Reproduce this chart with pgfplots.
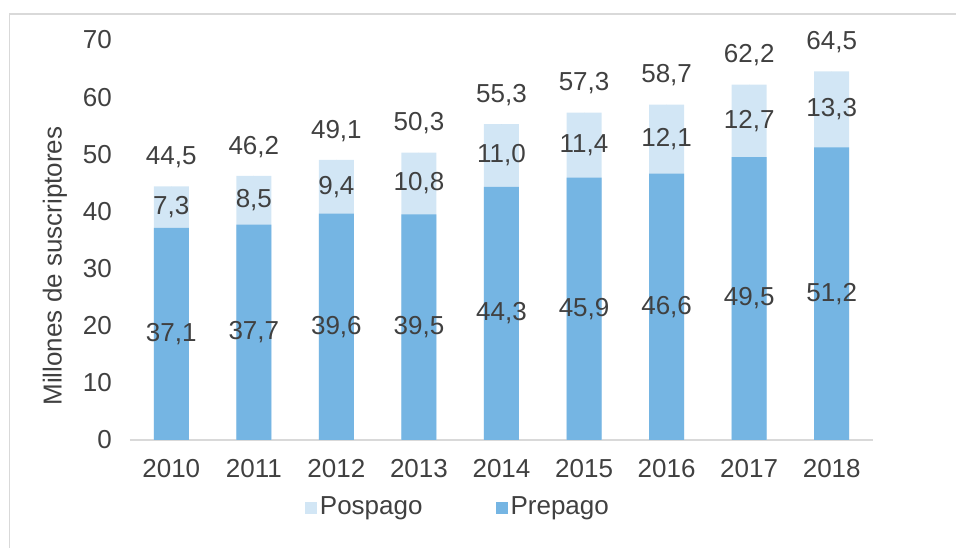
\documentclass[border=0pt]{standalone}
\usepackage{pgfplots}
\pgfplotsset{compat=1.18}
\usepackage{pgfplotstable}
\usepackage{fontspec}
\setmainfont{Liberation Sans}
\definecolor{prec}{HTML}{75B5E3}
\definecolor{posc}{HTML}{D2E6F5}
\definecolor{txt}{HTML}{404040}
\definecolor{axc}{HTML}{D9D9D9}
\pgfplotstableread{
x pre pos tot
0 37.1 7.3 44.5
1 37.7 8.5 46.2
2 39.6 9.4 49.1
3 39.5 10.8 50.3
4 44.3 11.0 55.3
5 45.9 11.4 57.3
6 46.6 12.1 58.7
7 49.5 12.7 62.2
8 51.2 13.3 64.5
}\datatab
\begin{document}
\fontsize{19.5}{23}\selectfont
\color{txt}
\begin{tikzpicture}
\begin{axis}[
  at={(0,0)}, anchor=south west,
  scale only axis, width=557.25pt, height=300pt,
  xmin=-0.5, xmax=8.5, ymin=0, ymax=70,
  xtick={0,1,2,3,4,5,6,7,8},
  xticklabels={2010,2011,2012,2013,2014,2015,2016,2017,2018},
  ytick={0,10,20,30,40,50,60,70},
  axis lines*=left,
  x axis line style={draw=axc, line width=1.5pt},
  y axis line style={draw=none},
  major tick length=0pt,
  tick style={draw=none},
  /pgf/number format/assume math mode=true,
  tick label style={font=\fontsize{19.5}{23}\selectfont, text=txt},
  yticklabel style={xshift=-7pt},
  xticklabel style={yshift=-8pt},
  ylabel={Millones de suscriptores},
  every axis y label/.style={at={(axis description cs:-0.101,0.435)}, rotate=90, anchor=center, font=\fontsize{19.5}{23}\selectfont, text=txt},
  legend style={at={(0.442,-0.17)}, anchor=center, draw=none, fill=none, legend columns=2,
    font=\fontsize{19.5}{23}\selectfont, text=txt,
    /tikz/every even column/.append style={column sep=53pt},
    /tikz/every odd column/.append style={column sep=0pt}},
  legend image code/.code={\fill[#1] (0pt,-4.5pt) rectangle (9pt,4.5pt);},
  nodes near coords={\pgfmathprintnumber[fixed, fixed zerofill, precision=1, use comma, assume math mode=true]{\pgfplotspointmeta}},
  every node near coord/.append style={font=\fontsize{19.5}{23}\selectfont, text=txt},
]
\addplot[ybar, bar width=26.25pt, bar shift=0pt, fill=posc, draw=none, nodes near coords={}] table[x=x, y expr=\thisrow{pre}+\thisrow{pos}]{\datatab};
\addlegendentry{Pospago}
\addplot[ybar, bar width=26.25pt, bar shift=0pt, fill=prec, draw=none, nodes near coords={}] table[x=x, y=pre]{\datatab};
\addlegendentry{Prepago}
% labels
\addplot[forget plot, only marks, mark=*, mark size=0pt, mark options={draw=none, fill=none},
  point meta=explicit, nodes near coords align=center]
  table[x=x, y expr=\thisrow{pre}/2, meta=pre]{\datatab};
\addplot[forget plot, only marks, mark=*, mark size=0pt, mark options={draw=none, fill=none},
  point meta=explicit, nodes near coords align=center]
  table[x=x, y expr=\thisrow{pre}+\thisrow{pos}/2, meta=pos]{\datatab};
\addplot[forget plot, only marks, mark=*, mark size=0pt, mark options={draw=none, fill=none},
  point meta=explicit, nodes near coords align=center,
  every node near coord/.append style={yshift=22pt}]
  table[x=x, y expr=\thisrow{pre}+\thisrow{pos}, meta=tot]{\datatab};
\end{axis}
\draw[axc, line width=1.2pt] (-90.5pt,-90pt) -- (-90.5pt,319.5pt) -- (630pt,319.5pt);
\pgfresetboundingbox
\useasboundingbox (-97.5pt,-81pt) rectangle (619.5pt,330pt);
\end{tikzpicture}
\end{document}
